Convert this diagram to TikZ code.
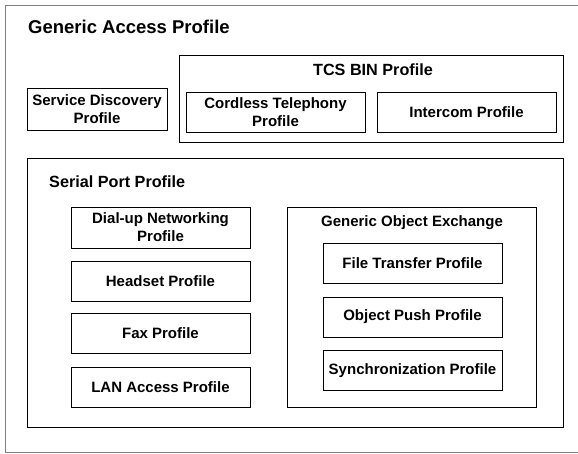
\documentclass[tikz,border=0pt]{standalone}
\usepackage{fontspec}
\setmainfont{Liberation Sans}
\usetikzlibrary{arrows,positioning}

\tikzset{
  profile/.style={draw, line width=0.9pt, inner sep=0pt, outer sep=0pt, align=center,
    minimum width=179pt, minimum height=40pt, font=\fontsize{15}{18}\selectfont\bfseries},
  group/.style={draw, line width=0.9pt, inner sep=0pt, outer sep=0pt},
  grouplabel/.style={inner sep=0pt, font=\fontsize{16.2}{19}\selectfont\bfseries}
}

\begin{document}
\begin{tikzpicture}[x=1pt,y=-1pt]
			 \useasboundingbox (0,0) rectangle (578,453);
			 \node (gap) [group, draw=gray, minimum width=576pt, minimum height=447pt] at (293,228.5) {};
			 \node (gaplabel) [inner sep=0pt, anchor=west, font=\fontsize{18.5}{22}\selectfont\bfseries] at (28,27) {Generic Access Profile};
			 \node (sdp) [profile, minimum width=140pt, minimum height=42pt] at (97,109) {Service Discovery\\Profile};
			 \node (tcs) [group, minimum width=384pt, minimum height=87pt] at (371,98.5) {};
			 \node (tcslabel) [grouplabel] at (373,70) {TCS BIN Profile};
			 \node (ctp) [profile] at (275.5,112) {Cordless Telephony\\Profile};
			 \node (icp) [profile] at (466.5,112) {Intercom Profile};
			 \node (spp) [group, minimum width=536pt, minimum height=269pt] at (295,292.5) {};
			 \node (spplabel) [grouplabel, anchor=west] at (49,182) {Serial Port Profile};
			 \node (dun) [profile, minimum height=41pt] at (160.5,227.5) {Dial-up Networking\\Profile};
			 \node (hsp) [profile, below=13pt of dun] {Headset Profile};
			 \node (fax) [profile, below=12.5pt of hsp] {Fax Profile};
			 \node (lap) [profile, below=13.5pt of fax] {LAN Access Profile};
			 \node (goep) [group, minimum width=249pt, minimum height=200pt] at (411.5,307) {};
			 \node (goelabel) [inner sep=0pt, font=\fontsize{15}{18}\selectfont\bfseries] at (412,223) {Generic Object Exchange};
			 \node (ftp) [profile] at (412.5,263.5) {File Transfer Profile};
			 \node (opp) [profile, below=13.5pt of ftp] {Object Push Profile};
			 \node (sync) [profile, below=13.5pt of opp] {Synchronization Profile};
			\end{tikzpicture}
\end{document}
